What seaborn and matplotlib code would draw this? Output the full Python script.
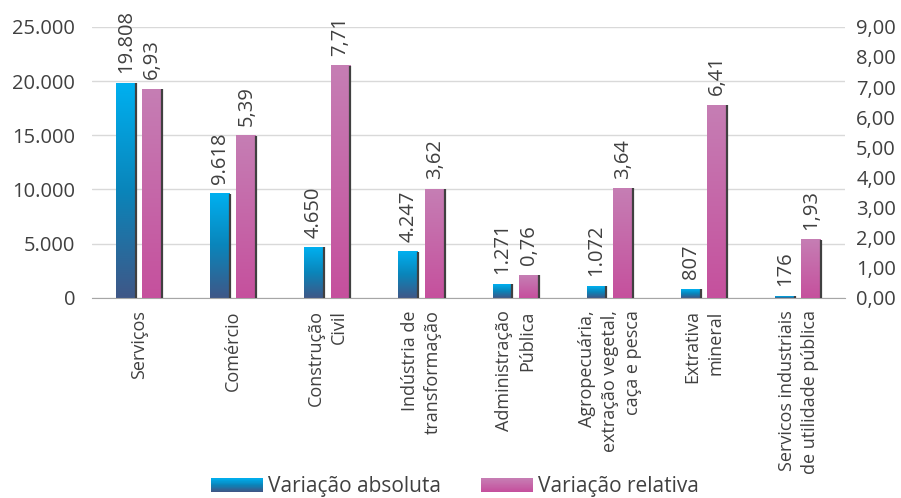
import matplotlib
matplotlib.use("Agg")
import matplotlib.pyplot as plt
import matplotlib.ticker as mticker
from matplotlib.colors import LinearSegmentedColormap
from matplotlib.patches import Rectangle
from matplotlib.legend_handler import HandlerBase
import numpy as np
import pandas as pd
import seaborn as sns

# dados
setores = ["Serviços", "Comércio", "Construção\nCivil", "Indústria de\ntransformação",
           "Administração\nPública", "Agropecuária,\nextração vegetal,\ncaça e pesca",
           "Extrativa\nmineral", "Servicos industriais\nde utilidade pública"]
var_absoluta = [19808, 9618, 4650, 4247, 1271, 1072, 807, 176]
var_relativa = [6.93, 5.39, 7.71, 3.62, 0.76, 3.64, 6.41, 1.93]
series = ["Variação absoluta", "Variação relativa"]

# cada eixo recebe as duas series (a outra vazia) para o dodge reservar os dois lugares
n = len(setores)
df_abs = pd.DataFrame({"setor": setores * 2, "serie": [series[0]] * n + [series[1]] * n,
                       "valor": var_absoluta + [np.nan] * n})
df_rel = pd.DataFrame({"setor": setores * 2, "serie": [series[0]] * n + [series[1]] * n,
                       "valor": [np.nan] * n + var_relativa})

sns.set_style("white")
plt.rcParams["font.family"] = ["Open Sans", "DejaVu Sans"]
txt = "#404040"

cmap_abs = LinearSegmentedColormap.from_list("abs", ["#00B0F0", "#0A85BA", "#3F5787"])
cmap_rel = LinearSegmentedColormap.from_list("rel", ["#C67EB4", "#C5509D"])
pal = {series[0]: "#0A85BA", series[1]: "#C5509D"}

fig = plt.figure(figsize=(9.01, 4.98), dpi=100)
ax = fig.add_axes([0.102, 0.402, 0.836, 0.544])
ax2 = ax.twinx()

sns.barplot(data=df_abs, x="setor", y="valor", hue="serie", hue_order=series, order=setores,
            palette=pal, width=0.56, gap=0.25, legend=False, ax=ax, zorder=2)
sns.barplot(data=df_rel, x="setor", y="valor", hue="serie", hue_order=series, order=setores,
            palette=pal, width=0.56, gap=0.25, legend=False, ax=ax2, zorder=2)

# degrade vertical em cada barra + sombra escura na borda direita
grad = np.linspace(0, 1, 256).reshape(-1, 1)
for a, cm in [(ax, cmap_abs), (ax2, cmap_rel)]:
    for p in list(a.patches):
        x0, w, h = p.get_x(), p.get_width(), p.get_height()
        if not np.isfinite(h) or h == 0:
            continue
        a.imshow(grad, extent=(x0, x0 + w, 0, h), aspect="auto", cmap=cm, zorder=2.5)
        p.set_visible(False)
        a.plot([x0 + w, x0 + w], [0, h], color="#404040", lw=1.6, zorder=2.6, solid_capstyle="butt")

fmt_abs = lambda v: f"{v:,.0f}".replace(",", ".")
fmt_rel = lambda v: f"{v:.2f}".replace(".", ",")
for c in ax.containers:
    ax.bar_label(c, fmt=fmt_abs, rotation=90, padding=7, fontsize=14.5, color=txt)
for c in ax2.containers:
    ax2.bar_label(c, fmt=fmt_rel, rotation=90, padding=7, fontsize=14.5, color=txt)

ax.set_xlim(-0.5, n - 0.5)
ax.set_ylim(0, 25000)
ax2.set_ylim(0, 9)
ax.yaxis.set_major_locator(mticker.MultipleLocator(5000))
ax.yaxis.set_major_formatter(mticker.FuncFormatter(lambda v, p: fmt_abs(v)))
ax2.yaxis.set_major_locator(mticker.MultipleLocator(1))
ax2.yaxis.set_major_formatter(mticker.FuncFormatter(lambda v, p: fmt_rel(v)))

ax.grid(axis="y", color="#D9D9D9", lw=1, zorder=0)
ax.set_axisbelow(True)
for a in (ax, ax2):
    a.set_xlabel("")
    a.set_ylabel("")
    for s in ["top", "left", "right"]:
        a.spines[s].set_visible(False)
ax.spines["bottom"].set_color("#A6A6A6")
ax2.spines["bottom"].set_visible(False)

ax.tick_params(axis="y", length=0, pad=12, labelsize=14.5, labelcolor=txt)
ax2.tick_params(axis="y", length=0, pad=8, labelsize=14.5, labelcolor=txt)
ax.tick_params(axis="x", length=0, pad=9, labelsize=13, labelcolor=txt)
ax.set_xticks(range(n))
ax.set_xticklabels(setores, rotation=90, ma="right", linespacing=1.35)


class GradHandler(HandlerBase):
    def __init__(self, cm):
        super().__init__()
        self.cm = cm

    def create_artists(self, legend, orig_handle, xdescent, ydescent, width, height, fontsize, trans):
        k = 24
        out = []
        for i in range(k):
            out.append(Rectangle((-xdescent, -ydescent + height * (k - 1 - i) / k), width, height / k * 1.05,
                                 facecolor=self.cm(i / (k - 1)), edgecolor="none", transform=trans))
        return out


h1 = Rectangle((0, 0), 1, 1)
h2 = Rectangle((0, 0), 1, 1)
leg = fig.legend([h1, h2], series, loc="lower center", bbox_to_anchor=(0.505, -0.036), ncol=2,
                 frameon=False, fontsize=15, handlelength=2.5, handleheight=0.65,
                 handletextpad=0.25, columnspacing=1.9,
                 handler_map={h1: GradHandler(cmap_abs), h2: GradHandler(cmap_rel)})
for t in leg.get_texts():
    t.set_color(txt)

plt.savefig("out.png", dpi=100)
